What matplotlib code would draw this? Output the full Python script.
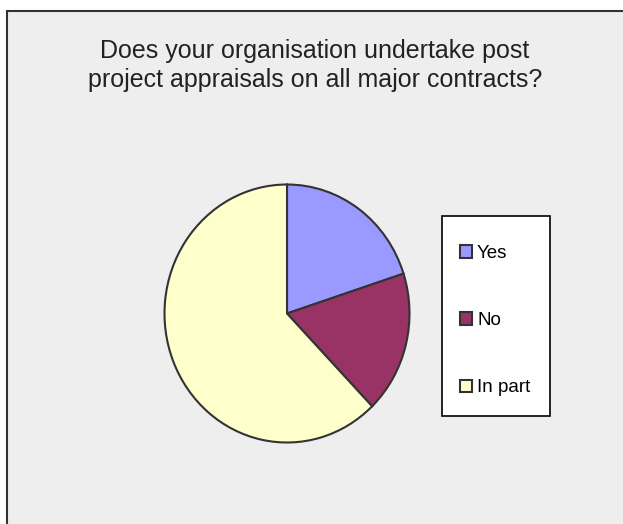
import matplotlib
matplotlib.use('Agg')
import matplotlib.pyplot as plt
from matplotlib.patches import Rectangle

plt.rcParams['font.family'] = ['Liberation Sans', 'DejaVu Sans']

# survey answers (count of respondents)
labels = ['Yes', 'No', 'In part']
counts = [9, 8, 28]
colors = ['#9999FF', '#993366', '#FFFFCC']
title = 'Does your organisation undertake post\nproject appraisals on all major contracts?'

W, H = 623, 524
fig = plt.figure(figsize=(W / 100, H / 100), dpi=100)
fig.patch.set_facecolor('white')

# grey chart area with dark border, running off the right/bottom edge
fig.patches.append(Rectangle((7 / W, -0.05), 1.1, 1 - 11 / H + 0.05,
                             transform=fig.transFigure, facecolor='#EEEEEE',
                             edgecolor='#333333', linewidth=1.5, zorder=-2))

fig.text(315 / W, 1 - 65.5 / H, title, ha='center', va='center',
         fontsize=18, color='#222222', linespacing=1.3)

# pie is slightly taller than wide in the reference
ax = fig.add_axes([164.5 / W, 1 - 442.5 / H, 245 / W, 258 / H])
wedges, _ = ax.pie(counts, colors=colors, startangle=90, counterclock=False,
                   wedgeprops=dict(edgecolor='#333333', linewidth=1.5))
ax.set_aspect('auto')
ax.set_xlim(-1, 1)
ax.set_ylim(-1, 1)
ax.axis('off')

# legend box drawn separately so the entries can sit where they do in the original
fig.patches.append(Rectangle((442 / W, 1 - 416 / H), 108 / W, 200 / H,
                             transform=fig.transFigure, facecolor='white',
                             edgecolor='black', linewidth=1.2, zorder=-1))
leg = fig.legend(wedges, labels, loc='upper left',
                 bbox_to_anchor=(460 / W, 1 - 245 / H),
                 fontsize=13.5, frameon=False,
                 handlelength=0.64, handleheight=0.64, handletextpad=0.27,
                 labelspacing=2.68, borderpad=0, borderaxespad=0)
for h in leg.legend_handles:
    h.set_edgecolor('#333333')
    h.set_linewidth(1.5)

fig.savefig('out.png', dpi=100)
